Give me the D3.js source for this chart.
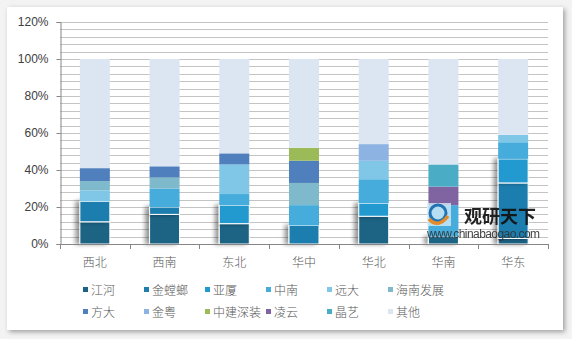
<!DOCTYPE html>
<html>
<head>
<meta charset="utf-8">
<script src="https://cdn.jsdelivr.net/npm/d3@7"></script>
<style>
  body { margin: 0; background: #ffffff; }
  text { font-family: "Noto Sans CJK SC", "Noto Sans", sans-serif; }
</style>
</head>
<body>
<div id="chart"></div>
<script>
// regions (x axis)
var regions = ["西北", "西南", "东北", "华中", "华北", "华南", "华东"];

// one array per company, in stack order (bottom to top), percent of region
var jianghe   = [12, 16, 11, 0, 15, 4, 3];
var jintanglang = [11, 4, 0, 10, 0, 0, 30];
var yasha     = [0, 0, 10, 0, 7, 0, 13];
var zhongnan  = [0, 10, 6, 11, 13, 17, 9];
var yuanda    = [6, 0, 16, 0, 10, 0, 4];
var hainan    = [5, 6, 0, 12, 0, 0, 0];
var fangda    = [7, 6, 6, 12, 0, 0, 0];
var jinyue    = [0, 0, 0, 0, 9, 0, 0];
var zhongjian = [0, 0, 0, 7, 0, 0, 0];
var lingyun   = [0, 0, 0, 0, 0, 10, 0];
var jingyi    = [0, 0, 0, 0, 0, 12, 0];
var qita      = [59, 58, 51, 48, 46, 57, 41];

var seriesNames = ["江河", "金螳螂", "亚厦", "中南", "远大", "海南发展",
                   "方大", "金粤", "中建深装", "凌云", "晶艺", "其他"];
var seriesValues = [jianghe, jintanglang, yasha, zhongnan, yuanda, hainan,
                    fangda, jinyue, zhongjian, lingyun, jingyi, qita];
var colors = ["#1b6384", "#1f7eae", "#2399cf", "#45acdc", "#80c6e7", "#7fbacc",
              "#4f7fbd", "#8db3e2", "#9bbb59", "#8064a2", "#4bacc6", "#dce6f2"];

var yTicks = [0, 0.2, 0.4, 0.6, 0.8, 1.0, 1.2];

var W = 572, H = 339;
var plot = {left: 60, right: 548, top: 22, bottom: 244};

var svg = d3.select("#chart").append("svg")
    .attr("width", W)
    .attr("height", H);

var defs = svg.append("defs");
var panelShadow = defs.append("filter").attr("id", "panelShadow")
    .attr("x", "-5%").attr("y", "-5%").attr("width", "110%").attr("height", "110%");
panelShadow.append("feDropShadow")
    .attr("dx", 2).attr("dy", 2).attr("stdDeviation", 2.5)
    .attr("flood-color", "#000").attr("flood-opacity", 0.35);

var barShadow = defs.append("filter").attr("id", "barShadow")
    .attr("x", "-60%").attr("y", "-20%").attr("width", "220%").attr("height", "140%");
barShadow.append("feDropShadow")
    .attr("dx", -4).attr("dy", 0).attr("stdDeviation", 2)
    .attr("flood-color", "#000").attr("flood-opacity", 0.4);

// background panel
svg.append("rect").attr("width", W).attr("height", H).attr("fill", "#f3f3f3");
svg.append("rect")
    .attr("x", 7).attr("y", 7).attr("width", 556).attr("height", 323)
    .attr("fill", "#ffffff")
    .attr("filter", "url(#panelShadow)");

// scales
var x = d3.scaleBand()
    .domain(regions)
    .range([plot.left, plot.right])
    .paddingInner(0.57)
    .paddingOuter(0.285);

var y = d3.scaleLinear()
    .domain([0, 1.2])
    .range([plot.bottom, plot.top]);

// gridlines every 4%
var grid = d3.range(1, 31).map(function(i) { return i * 0.04; });
svg.append("g")
    .selectAll("line")
    .data(grid)
    .enter().append("line")
    .attr("x1", plot.left).attr("x2", plot.right)
    .attr("y1", function(d) { return Math.round(y(d)) + 0.5; })
    .attr("y2", function(d) { return Math.round(y(d)) + 0.5; })
    .attr("stroke", "#c4c4c4")
    .attr("stroke-width", 1.2);

// Y axis
var yAxis = svg.append("g")
    .attr("transform", "translate(" + (plot.left + 0.5) + ",0)")
    .call(d3.axisLeft(y).tickValues(yTicks).tickFormat(d3.format(".0%")).tickSize(4).tickPadding(8));
yAxis.select(".domain").attr("stroke", "#868686");
yAxis.selectAll(".tick line").attr("stroke", "#868686");
yAxis.selectAll(".tick text")
    .attr("fill", "#404040")
    .style("font-size", "12px")
    .style("font-family", "'Liberation Sans', Arial, sans-serif");

// stacked bars
var table = regions.map(function(r, i) {
    var row = {region: r};
    seriesNames.forEach(function(s, k) { row[s] = seriesValues[k][i] / 100; });
    return row;
});
var stack = d3.stack().keys(seriesNames);
var layers = stack(table);

var layerG = svg.append("g").selectAll("g")
    .data(layers)
    .enter().append("g")
    .attr("fill", function(d, i) { return colors[i]; })
    .attr("filter", function(d, i) { return i < 3 ? "url(#barShadow)" : null; });

layerG.selectAll("rect")
    .data(function(d) { return d.map(function(p) { return {p: p, key: d.key}; }); })
    .enter().append("rect")
    .filter(function(d) { return d.p[1] - d.p[0] > 0; })
    .attr("x", function(d) { return x(d.p.data.region); })
    .attr("y", function(d) { return y(d.p[1]); })
    .attr("width", x.bandwidth())
    .attr("height", function(d) { return y(d.p[0]) - y(d.p[1]); })
    .attr("stroke", function(d) {
        var k = seriesNames.indexOf(d.key);
        return k < 3 ? "#ffffff" : "none";
    })
    .attr("stroke-width", 1);

// X axis
var xAxisG = svg.append("g");
xAxisG.append("line")
    .attr("x1", plot.left).attr("x2", plot.right)
    .attr("y1", plot.bottom + 0.5).attr("y2", plot.bottom + 0.5)
    .attr("stroke", "#868686");
var step = x.step();
xAxisG.selectAll("line.tk")
    .data(d3.range(regions.length + 1))
    .enter().append("line")
    .attr("class", "tk")
    .attr("x1", function(i) { return Math.round(plot.left + i * step) + 0.5; })
    .attr("x2", function(i) { return Math.round(plot.left + i * step) + 0.5; })
    .attr("y1", plot.bottom).attr("y2", plot.bottom + 5)
    .attr("stroke", "#868686");
xAxisG.selectAll("text")
    .data(regions)
    .enter().append("text")
    .attr("x", function(d) { return x(d) + x.bandwidth() / 2; })
    .attr("y", 267)
    .attr("text-anchor", "middle")
    .attr("fill", "#595959")
    .style("font-size", "12px")
    .style("font-weight", 300)
    .text(function(d) { return d; });

// watermark
var wm = svg.append("g").attr("opacity", 0.92);
wm.append("rect")
    .attr("x", 427).attr("y", 203).attr("width", 24).attr("height", 23)
    .attr("fill", "#d6ecf8").attr("opacity", 0.85);
wm.append("circle")
    .attr("cx", 438).attr("cy", 213).attr("r", 8)
    .attr("fill", "none").attr("stroke", "#1f6fb0").attr("stroke-width", 3);
wm.append("path")
    .attr("d", "M429,219 Q438,229 448,216")
    .attr("fill", "none").attr("stroke", "#f08a1c").attr("stroke-width", 3.5);
wm.append("text")
    .attr("x", 464).attr("y", 223)
    .attr("fill", "#111111")
    .style("font-size", "18px")
    .style("font-weight", "bold")
    .text("观研天下");
wm.append("text")
    .attr("x", 427).attr("y", 238)
    .attr("fill", "#333333")
    .attr("textLength", 113)
    .style("font-size", "12px")
    .style("font-family", "'Liberation Sans', Arial, sans-serif")
    .text("www.chinabaogao.com");

// legend
var legend = svg.append("g").selectAll("g")
    .data(seriesNames)
    .enter().append("g")
    .attr("transform", function(d, i) {
        var col = i % 6, row = Math.floor(i / 6);
        return "translate(" + (83 + col * 61) + "," + (290 + row * 22) + ")";
    });
legend.append("rect")
    .attr("x", 0).attr("y", -3).attr("width", 5).attr("height", 5)
    .attr("fill", function(d, i) { return colors[i]; });
legend.append("text")
    .attr("x", 8).attr("y", 4.5)
    .attr("fill", "#595959")
    .style("font-size", "12px")
    .style("font-weight", 300)
    .text(function(d) { return d; });
</script>
</body>
</html>
